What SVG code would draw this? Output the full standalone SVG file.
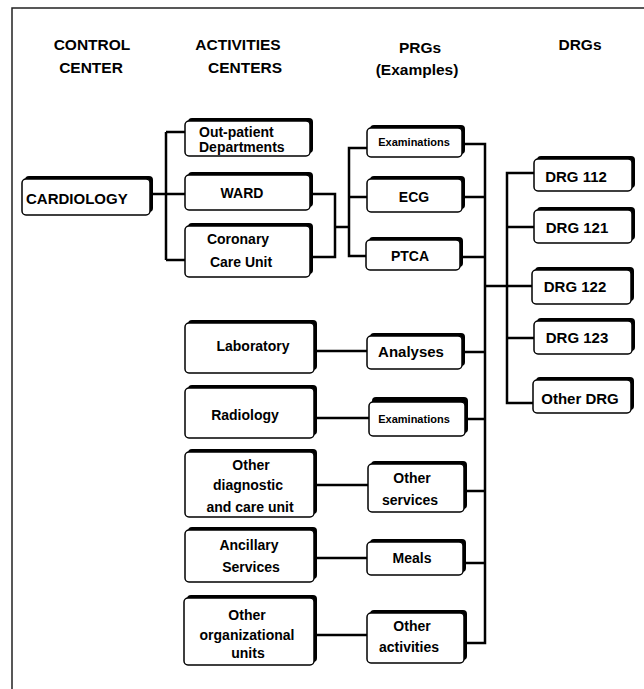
<svg xmlns="http://www.w3.org/2000/svg" width="644" height="689" viewBox="0 0 644 689">
<style>
.sh{fill:#000}
.bx{fill:#fff;stroke:#000;stroke-width:1.5}
.t{font-family:"Liberation Sans",Arial,sans-serif;font-weight:bold;font-size:14px;text-anchor:middle;fill:#000}
.h{font-size:15.5px}
.s{font-size:11px}
.l{text-anchor:start}
.c{fill:none;stroke:#000;stroke-width:2.5}
.fr{fill:none;stroke:#222;stroke-width:1.5}
</style>
<rect width="644" height="689" fill="#fff"/>
<path class="fr" d="M12,689 V8 H644"/>
<g id="headers">
<text class="t h" x="92" y="50">CONTROL</text>
<text class="t h" x="91" y="73">CENTER</text>
<text class="t h" x="238" y="50">ACTIVITIES</text>
<text class="t h" x="245" y="73">CENTERS</text>
<text class="t h" x="420" y="53">PRGs</text>
<text class="t h" x="417" y="75">(Examples)</text>
<text class="t h" x="580" y="50">DRGs</text>
</g>
<g id="connectors">
<path class="c" d="M151,194 H185 M166,132 V260 M166,132 H185 M166,260 H185"/>
<path class="c" d="M310,194 H335 V257 H310 M335,227 H349"/>
<path class="c" d="M367,148 H349 V256 H366 M349,197 H367"/>
<path class="c" d="M462,144 H485 V643 H464 M462,197 H485 M460,257 H485 M462,352 H485 M465,419 H485 M464,491 H485 M463,563 H485"/>
<path class="c" d="M485,286 H532 M534,173 H507 V403 H533 M507,227 H534 M507,338 H534"/>
<path class="c" d="M314,351 H367 M314,418 H369 M314,485 H368 M314,558 H367 M314,635 H367"/>
</g>
<g id="cardiology">
<rect class="sh" x="25" y="176" width="128" height="36" rx="4"/>
<rect class="bx" x="22" y="179" width="128" height="36" rx="4"/>
<text class="t l" x="26" y="204" style="font-size:15px">CARDIOLOGY</text>
</g>
<g id="outpatient">
<rect class="sh" x="188" y="118" width="125" height="35" rx="4"/>
<rect class="bx" x="185" y="121" width="125" height="35" rx="4"/>
<text class="t l" x="199" y="137">Out-patient</text>
<text class="t l" x="199" y="152">Departments</text>
</g>
<g id="ward">
<rect class="sh" x="188" y="172" width="125" height="35" rx="4"/>
<rect class="bx" x="185" y="175" width="125" height="35" rx="4"/>
<text class="t" x="242" y="198">WARD</text>
</g>
<g id="coronary">
<rect class="sh" x="188" y="223" width="125" height="51" rx="4"/>
<rect class="bx" x="185" y="226" width="125" height="51" rx="4"/>
<text class="t" x="238" y="244">Coronary</text>
<text class="t" x="241" y="267">Care Unit</text>
</g>
<g id="exam1">
<rect class="sh" x="370" y="125" width="95" height="29" rx="4"/>
<rect class="bx" x="367" y="128" width="95" height="29" rx="4"/>
<text class="t s" x="414" y="146">Examinations</text>
</g>
<g id="ecg">
<rect class="sh" x="370" y="176" width="95" height="33" rx="4"/>
<rect class="bx" x="367" y="179" width="95" height="33" rx="4"/>
<text class="t" x="414" y="202">ECG</text>
</g>
<g id="ptca">
<rect class="sh" x="369" y="237" width="94" height="30" rx="4"/>
<rect class="bx" x="366" y="240" width="94" height="30" rx="4"/>
<text class="t" x="410" y="261">PTCA</text>
</g>
<g id="drg112">
<rect class="sh" x="537" y="156" width="98" height="32" rx="4"/>
<rect class="bx" x="534" y="159" width="98" height="32" rx="4"/>
<text class="t" x="576" y="182" style="font-size:15px">DRG 112</text>
</g>
<g id="drg121">
<rect class="sh" x="537" y="207" width="98" height="33" rx="4"/>
<rect class="bx" x="534" y="210" width="98" height="33" rx="4"/>
<text class="t" x="577" y="233" style="font-size:15px">DRG 121</text>
</g>
<g id="drg122">
<rect class="sh" x="535" y="267" width="99" height="34" rx="4"/>
<rect class="bx" x="532" y="270" width="99" height="34" rx="4"/>
<text class="t" x="575" y="292" style="font-size:15px">DRG 122</text>
</g>
<g id="drg123">
<rect class="sh" x="537" y="318" width="98" height="33" rx="4"/>
<rect class="bx" x="534" y="321" width="98" height="33" rx="4"/>
<text class="t" x="577" y="343" style="font-size:15px">DRG 123</text>
</g>
<g id="otherdrg">
<rect class="sh" x="536" y="377" width="98" height="33" rx="4"/>
<rect class="bx" x="533" y="380" width="98" height="33" rx="4"/>
<text class="t" x="580" y="404" style="font-size:15px">Other DRG</text>
</g>
<g id="laboratory">
<rect class="sh" x="188" y="320" width="129" height="50" rx="4"/>
<rect class="bx" x="185" y="323" width="129" height="50" rx="4"/>
<text class="t" x="253" y="351">Laboratory</text>
</g>
<g id="radiology">
<rect class="sh" x="188" y="385" width="129" height="50" rx="4"/>
<rect class="bx" x="185" y="388" width="129" height="50" rx="4"/>
<text class="t" x="245" y="420">Radiology</text>
</g>
<g id="otherdiag">
<rect class="sh" x="188" y="449" width="129" height="65" rx="4"/>
<rect class="bx" x="185" y="452" width="129" height="65" rx="4"/>
<text class="t" x="251" y="470">Other</text>
<text class="t" x="248" y="490">diagnostic</text>
<text class="t" x="250" y="512">and care unit</text>
</g>
<g id="ancillary">
<rect class="sh" x="188" y="527" width="129" height="52" rx="4"/>
<rect class="bx" x="185" y="530" width="129" height="52" rx="4"/>
<text class="t" x="249" y="550">Ancillary</text>
<text class="t" x="251" y="572">Services</text>
</g>
<g id="otherorg">
<rect class="sh" x="187" y="595" width="130" height="67" rx="4"/>
<rect class="bx" x="184" y="598" width="130" height="67" rx="4"/>
<text class="t" x="247" y="620">Other</text>
<text class="t" x="247" y="640">organizational</text>
<text class="t" x="248" y="658">units</text>
</g>
<g id="analyses">
<rect class="sh" x="370" y="333" width="95" height="33" rx="4"/>
<rect class="bx" x="367" y="336" width="95" height="33" rx="4"/>
<text class="t" x="411" y="357" style="font-size:15px">Analyses</text>
</g>
<g id="exam2">
<rect class="sh" x="372" y="397" width="96" height="36" rx="4"/>
<rect class="bx" x="369" y="402" width="96" height="34" rx="4"/>
<text class="t s" x="414" y="423">Examinations</text>
</g>
<g id="otherservices">
<rect class="sh" x="371" y="461" width="96" height="48" rx="4"/>
<rect class="bx" x="368" y="464" width="96" height="48" rx="4"/>
<text class="t" x="412" y="483">Other</text>
<text class="t" x="410" y="505">services</text>
</g>
<g id="meals">
<rect class="sh" x="370" y="539" width="96" height="33" rx="4"/>
<rect class="bx" x="367" y="542" width="96" height="33" rx="4"/>
<text class="t" x="412" y="563">Meals</text>
</g>
<g id="otheractivities">
<rect class="sh" x="370" y="610" width="97" height="50" rx="4"/>
<rect class="bx" x="367" y="613" width="97" height="50" rx="4"/>
<text class="t" x="412" y="631">Other</text>
<text class="t" x="409" y="652">activities</text>
</g>
</svg>
